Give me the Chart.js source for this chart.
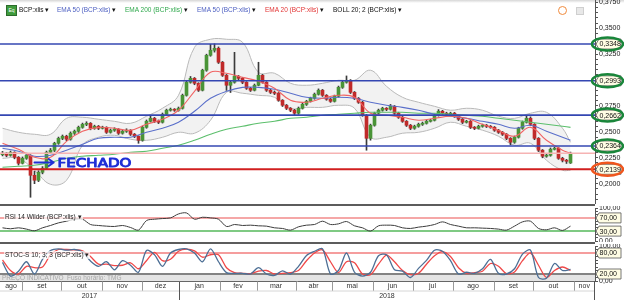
<!DOCTYPE html>
<html lang="pt">
<head>
<meta charset="utf-8">
<title>BCP:xlis</title>
<script src="https://cdn.jsdelivr.net/npm/chart.js"></script>
<style>
  body { margin: 0; background: #fff; font-family: "Liberation Sans", Arial, sans-serif; }
  #quadro { position: relative; width: 624px; height: 300px; overflow: hidden; background: #fff; }
  canvas { position: absolute; left: 0; }
  .topo { position: absolute; left: 0; top: 0; width: 624px; height: 3px; background: linear-gradient(#d6d6d6, #fff); }
  .sep { position: absolute; left: 0; width: 595px; height: 2px; background: #5c5c5c; }
  .eixo { position: absolute; left: 594px; top: 281px; width: 1px; height: 19px; background: #555; }
  .leg { position: absolute; font-size: 6.5px; line-height: 8px; white-space: nowrap; }
  .caixa { background: rgba(255,255,255,0.7); padding: 0 1px; }
  .icone { position: absolute; left: 6px; top: 5px; width: 9px; height: 9px; background: #3f9b3c; border: 1px solid #2b6b2a;
           color: #fff; font-size: 5px; line-height: 9px; text-align: center; }
  .bola { position: absolute; left: 558px; top: 6px; width: 7px; height: 7px; border-radius: 50%; background: #fff; border: 1.5px solid #f08a3c; }
  .quad { position: absolute; left: 576px; top: 7px; width: 6px; height: 6px; background: #e8e8e8; border: 1px solid #cfcfcf; }
</style>
</head>
<body>
<div id="quadro">
  <div class="topo"></div>
  <canvas id="grafPreco" width="624" height="204" style="top:0"></canvas>
  <div class="sep" style="top:204px"></div>
  <canvas id="grafRsi" width="624" height="36" style="top:206px"></canvas>
  <div class="sep" style="top:242px"></div>
  <canvas id="grafStoc" width="624" height="56" style="top:244px"></canvas>
  <div class="eixo"></div>

  <div class="icone">Eq</div>
  <div class="leg" style="left:19px;top:6px;color:#111">BCP:xlis ▾</div>
  <div class="leg" style="left:57px;top:6px;color:#4e60c2">EMA 50 (BCP:xlis) <span style="color:#111">▾</span></div>
  <div class="leg" style="left:125px;top:6px;color:#2fa84c">EMA 200 (BCP:xlis) <span style="color:#111">▾</span></div>
  <div class="leg" style="left:197px;top:6px;color:#4e60c2">EMA 50 (BCP:xlis) <span style="color:#111">▾</span></div>
  <div class="leg" style="left:265px;top:6px;color:#e23434">EMA 20 (BCP:xlis) <span style="color:#111">▾</span></div>
  <div class="leg" style="left:333px;top:6px;color:#111">BOLL 20; 2 (BCP:xlis) ▾</div>
  <div class="bola"></div>
  <div class="quad"></div>

  <div class="leg caixa" style="left:4px;top:213px;color:#222">RSI 14 Wilder (BCP:xlis) ▾</div>
  <div class="leg caixa" style="left:4px;top:251px;color:#222">STOC-S 10; 3; 3 (BCP:xlis) ▾</div>
</div>

<script>
// ---------- eixo do tempo ----------
const meses = ['ago', 'set', 'out', 'nov', 'dez', 'jan', 'fev', 'mar', 'abr', 'mai', 'jun', 'jul', 'ago', 'set', 'out', 'nov'];
const limitesMes = [-0.625, 4.9, 14.75, 24.9, 34.9, 44.1, 54.25, 63.5, 73.25, 82.3, 92.5, 102.5, 112.5, 122.75, 132.7, 142.75, 148.125];
const anos = ['2017', '2018'];
const limitesAno = [-0.625, 44.1, 148.125];

// ---------- velas: [abertura, máxima, mínima, fecho] ----------
const velas = [
  [0.2280, 0.2312, 0.2268, 0.2294], [0.2294, 0.2300, 0.2260, 0.2274], [0.2274, 0.2315, 0.2265, 0.2303], [0.2303, 0.2308, 0.2240, 0.2255],
  [0.2255, 0.2262, 0.2180, 0.2197], [0.2197, 0.2258, 0.2190, 0.2245], [0.2245, 0.2295, 0.2235, 0.2274], [0.2274, 0.2280, 0.1869, 0.2081],
  [0.2081, 0.2120, 0.2000, 0.2033], [0.2033, 0.2125, 0.2020, 0.2110], [0.2110, 0.2165, 0.2095, 0.2149], [0.2149, 0.2315, 0.2140, 0.2303],
  [0.2303, 0.2340, 0.2290, 0.2323], [0.2323, 0.2400, 0.2310, 0.2390], [0.2390, 0.2450, 0.2380, 0.2438], [0.2438, 0.2470, 0.2425, 0.2458],
  [0.2458, 0.2468, 0.2415, 0.2429], [0.2429, 0.2500, 0.2420, 0.2487], [0.2487, 0.2518, 0.2475, 0.2506], [0.2506, 0.2556, 0.2495, 0.2544],
  [0.2544, 0.2585, 0.2535, 0.2573], [0.2573, 0.2598, 0.2560, 0.2583], [0.2583, 0.2590, 0.2520, 0.2535], [0.2535, 0.2565, 0.2525, 0.2554],
  [0.2554, 0.2562, 0.2522, 0.2535], [0.2535, 0.2555, 0.2528, 0.2544], [0.2544, 0.2550, 0.2485, 0.2496], [0.2496, 0.2528, 0.2488, 0.2516],
  [0.2516, 0.2540, 0.2505, 0.2525], [0.2525, 0.2532, 0.2475, 0.2487], [0.2487, 0.2518, 0.2478, 0.2506], [0.2506, 0.2530, 0.2495, 0.2516],
  [0.2516, 0.2522, 0.2465, 0.2477], [0.2477, 0.2485, 0.2445, 0.2458], [0.2458, 0.2462, 0.2390, 0.2419], [0.2419, 0.2556, 0.2410, 0.2544],
  [0.2544, 0.2615, 0.2535, 0.2602], [0.2602, 0.2660, 0.2595, 0.2631], [0.2631, 0.2640, 0.2590, 0.2602], [0.2602, 0.2615, 0.2580, 0.2593],
  [0.2593, 0.2682, 0.2585, 0.2670], [0.2670, 0.2720, 0.2660, 0.2709], [0.2709, 0.2730, 0.2700, 0.2718], [0.2718, 0.2725, 0.2698, 0.2709],
  [0.2709, 0.2740, 0.2700, 0.2728], [0.2728, 0.2865, 0.2720, 0.2853], [0.2853, 0.2990, 0.2845, 0.2979], [0.2979, 0.3035, 0.2970, 0.3017],
  [0.3017, 0.3025, 0.2955, 0.2969], [0.2969, 0.2975, 0.2890, 0.2902], [0.2902, 0.3105, 0.2895, 0.3095], [0.3095, 0.3250, 0.3085, 0.3239],
  [0.3239, 0.3345, 0.3230, 0.3288], [0.3288, 0.3350, 0.3270, 0.3307], [0.3307, 0.3320, 0.3160, 0.3172], [0.3172, 0.3180, 0.3035, 0.3046],
  [0.3046, 0.3055, 0.2900, 0.2950], [0.2950, 0.2990, 0.2880, 0.2979], [0.2979, 0.3268, 0.2970, 0.3037], [0.3037, 0.3045, 0.3000, 0.3017],
  [0.3017, 0.3025, 0.2965, 0.2979], [0.2979, 0.2985, 0.2910, 0.2921], [0.2921, 0.2930, 0.2890, 0.2902], [0.2902, 0.2962, 0.2895, 0.2950],
  [0.2950, 0.3172, 0.2945, 0.3046], [0.3046, 0.3055, 0.2970, 0.2979], [0.2979, 0.2985, 0.2890, 0.2902], [0.2902, 0.2912, 0.2870, 0.2882],
  [0.2882, 0.2895, 0.2860, 0.2873], [0.2873, 0.2880, 0.2795, 0.2805], [0.2805, 0.2812, 0.2745, 0.2757], [0.2757, 0.2765, 0.2715, 0.2728],
  [0.2728, 0.2735, 0.2695, 0.2709], [0.2709, 0.2718, 0.2660, 0.2680], [0.2680, 0.2740, 0.2670, 0.2728], [0.2728, 0.2778, 0.2720, 0.2766],
  [0.2766, 0.2805, 0.2755, 0.2795], [0.2795, 0.2835, 0.2788, 0.2824], [0.2824, 0.2875, 0.2815, 0.2863], [0.2863, 0.2915, 0.2855, 0.2902],
  [0.2902, 0.2910, 0.2842, 0.2853], [0.2853, 0.2860, 0.2805, 0.2815], [0.2815, 0.2825, 0.2785, 0.2795], [0.2795, 0.2855, 0.2788, 0.2844],
  [0.2844, 0.2942, 0.2835, 0.2930], [0.2930, 0.2990, 0.2920, 0.2979], [0.2979, 0.3040, 0.2970, 0.2998], [0.2998, 0.3005, 0.2870, 0.2882],
  [0.2882, 0.2890, 0.2812, 0.2824], [0.2824, 0.2832, 0.2775, 0.2786], [0.2786, 0.2795, 0.2650, 0.2660], [0.2660, 0.2668, 0.2323, 0.2438],
  [0.2438, 0.2575, 0.2420, 0.2564], [0.2564, 0.2690, 0.2555, 0.2680], [0.2680, 0.2720, 0.2670, 0.2709], [0.2709, 0.2738, 0.2700, 0.2728],
  [0.2728, 0.2735, 0.2705, 0.2718], [0.2718, 0.2765, 0.2710, 0.2747], [0.2747, 0.2755, 0.2668, 0.2680], [0.2680, 0.2690, 0.2630, 0.2641],
  [0.2641, 0.2650, 0.2592, 0.2602], [0.2602, 0.2610, 0.2552, 0.2564], [0.2564, 0.2572, 0.2522, 0.2535], [0.2535, 0.2565, 0.2525, 0.2554],
  [0.2554, 0.2585, 0.2545, 0.2573], [0.2573, 0.2595, 0.2562, 0.2583], [0.2583, 0.2612, 0.2575, 0.2602], [0.2602, 0.2622, 0.2595, 0.2612],
  [0.2612, 0.2672, 0.2605, 0.2660], [0.2660, 0.2715, 0.2652, 0.2699], [0.2699, 0.2708, 0.2670, 0.2680], [0.2680, 0.2690, 0.2660, 0.2670],
  [0.2670, 0.2690, 0.2662, 0.2680], [0.2680, 0.2688, 0.2640, 0.2651], [0.2651, 0.2660, 0.2610, 0.2622], [0.2622, 0.2630, 0.2580, 0.2593],
  [0.2593, 0.2612, 0.2585, 0.2602], [0.2602, 0.2610, 0.2532, 0.2544], [0.2544, 0.2552, 0.2522, 0.2535], [0.2535, 0.2565, 0.2528, 0.2554],
  [0.2554, 0.2575, 0.2545, 0.2564], [0.2564, 0.2572, 0.2542, 0.2554], [0.2554, 0.2562, 0.2535, 0.2544], [0.2544, 0.2552, 0.2505, 0.2516],
  [0.2516, 0.2525, 0.2485, 0.2496], [0.2496, 0.2505, 0.2465, 0.2477], [0.2477, 0.2485, 0.2425, 0.2438], [0.2438, 0.2445, 0.2375, 0.2400],
  [0.2400, 0.2460, 0.2390, 0.2448], [0.2448, 0.2545, 0.2440, 0.2535], [0.2535, 0.2605, 0.2525, 0.2593], [0.2593, 0.2660, 0.2585, 0.2631],
  [0.2631, 0.2645, 0.2560, 0.2573], [0.2573, 0.2580, 0.2425, 0.2438], [0.2438, 0.2445, 0.2310, 0.2323], [0.2323, 0.2330, 0.2250, 0.2265],
  [0.2265, 0.2290, 0.2255, 0.2274], [0.2274, 0.2345, 0.2265, 0.2332], [0.2332, 0.2352, 0.2325, 0.2342], [0.2342, 0.2350, 0.2235, 0.2245],
  [0.2245, 0.2255, 0.2210, 0.2226], [0.2226, 0.2235, 0.2195, 0.2216], [0.2200, 0.2305, 0.2195, 0.2294]
];

// ---------- médias e bandas (lidas a cada 4 velas) ----------
const idxLinhas = [0, 4, 8, 12, 16, 20, 24, 28, 32, 36, 40, 44, 48, 52, 56, 60, 64, 68, 72, 76, 80, 84, 88, 92, 96, 100, 104, 108, 112, 116, 120, 124, 128, 132, 136, 140, 142];
const ema20 = [0.2390, 0.2332, 0.2255, 0.2255, 0.2409, 0.2506, 0.2544, 0.2535, 0.2516, 0.2573, 0.2622, 0.2709, 0.2892, 0.3075, 0.3066, 0.3027, 0.2988, 0.2921, 0.2805,
  0.2786, 0.2824, 0.2853, 0.2834, 0.2680, 0.2660, 0.2641, 0.2612, 0.2631, 0.2651, 0.2631, 0.2573, 0.2516, 0.2458, 0.2544, 0.2419, 0.2323, 0.2294];
const ema50 = [0.2342, 0.2313, 0.2265, 0.2274, 0.2323, 0.2380, 0.2438, 0.2448, 0.2448, 0.2496, 0.2535, 0.2593, 0.2699, 0.2824, 0.2892, 0.2930, 0.2930, 0.2911, 0.2873,
  0.2834, 0.2824, 0.2834, 0.2824, 0.2786, 0.2757, 0.2737, 0.2709, 0.2670, 0.2651, 0.2631, 0.2602, 0.2573, 0.2535, 0.2564, 0.2506, 0.2448, 0.2419];
const ema200 = [0.2158, 0.2168, 0.2178, 0.2207, 0.2245, 0.2265, 0.2274, 0.2284, 0.2303, 0.2313, 0.2342, 0.2371, 0.2419, 0.2477, 0.2525, 0.2554, 0.2583, 0.2602, 0.2631,
  0.2641, 0.2660, 0.2670, 0.2680, 0.2689, 0.2689, 0.2689, 0.2680, 0.2680, 0.2670, 0.2660, 0.2651, 0.2631, 0.2612, 0.2593, 0.2573, 0.2554, 0.2544];
const bollSup = [0.2535, 0.2496, 0.2477, 0.2477, 0.2631, 0.2641, 0.2622, 0.2602, 0.2583, 0.2651, 0.2728, 0.2853, 0.3316, 0.3394, 0.3394, 0.3365, 0.3075, 0.3066, 0.2969,
  0.2950, 0.2969, 0.2998, 0.2998, 0.3095, 0.2940, 0.2834, 0.2786, 0.2747, 0.2709, 0.2728, 0.2709, 0.2651, 0.2631, 0.2680, 0.2689, 0.2535, 0.2400];
const bollInf = [0.2245, 0.2245, 0.2130, 0.1994, 0.2033, 0.2371, 0.2448, 0.2467, 0.2429, 0.2419, 0.2448, 0.2496, 0.2487, 0.2612, 0.2882, 0.2873, 0.2853, 0.2834, 0.2728,
  0.2737, 0.2737, 0.2757, 0.2728, 0.2448, 0.2448, 0.2487, 0.2496, 0.2535, 0.2593, 0.2554, 0.2516, 0.2458, 0.2371, 0.2390, 0.2226, 0.2130, 0.2130];

// ---------- osciladores (lidos a cada 2 velas) ----------
const idxOsc = [0, 2, 4, 6, 8, 10, 12, 14, 16, 18, 20, 22, 24, 26, 28, 30, 32, 34, 36, 38, 40, 42, 44, 46, 48, 50, 52, 54, 56, 58, 60, 62, 64, 66, 68, 70,
  72, 74, 76, 78, 80, 82, 84, 86, 88, 90, 92, 94, 96, 98, 100, 102, 104, 106, 108, 110, 112, 114, 116, 118, 120, 122, 124, 126, 128, 130, 132, 134, 136, 138, 140, 142];
const rsi = [40, 37, 40, 36, 31, 40, 47, 55, 60, 66, 66, 50, 47, 45, 44, 47, 41, 33, 62, 66, 68, 70, 82, 85, 66, 72, 70, 66, 44, 50, 47, 48, 46, 45, 40, 38,
  33, 43, 48, 50, 60, 50, 52, 59, 46, 40, 30, 46, 48, 47, 40, 38, 42, 45, 50, 58, 50, 45, 40, 40, 39, 38, 36, 33, 45, 58, 60, 38, 34, 40, 32, 45];
const stocK = [53, 14, 28, 55, 20, 62, 87, 92, 88, 90, 83, 57, 42, 55, 32, 58, 45, 25, 87, 75, 42, 80, 90, 92, 80, 55, 92, 55, 24, 22, 22, 20, 38, 20, 16, 29,
  20, 42, 73, 85, 92, 20, 30, 80, 25, 14, 25, 72, 75, 32, 28, 10, 36, 59, 88, 85, 58, 20, 25, 22, 35, 62, 22, 20, 35, 77, 88, 10, 8, 50, 30, 33];
const stocD = [60, 30, 20, 42, 38, 40, 75, 90, 90, 89, 86, 70, 48, 48, 44, 45, 52, 35, 58, 82, 58, 62, 85, 91, 86, 68, 75, 75, 38, 24, 22, 21, 28, 30, 20, 22,
  24, 30, 58, 80, 89, 55, 24, 55, 52, 20, 18, 48, 74, 55, 30, 18, 22, 48, 72, 84, 70, 38, 22, 24, 28, 50, 42, 21, 26, 58, 80, 45, 10, 30, 40, 30];

// ---------- níveis ----------
const resistencias = [0.3348, 0.2993, 0.2662, 0.2364];
const suporte = 0.2139;
const marcasPreco = [0.200, 0.225, 0.250, 0.275, 0.300, 0.325, 0.350, 0.375];
const niveisRsi = [70, 30];
const niveisStoc = [80, 20];
const anotacao = { texto: 'FECHADO', setaDe: 8, setaAte: 12.8, valorSeta: 0.2205, xTexto: 13.75, valorTexto: 0.2160, largura: 74 };

// ---------- configuração ----------
Chart.defaults.font.family = '"Liberation Sans", Arial, sans-serif';
Chart.defaults.animation = false;
Chart.defaults.plugins.legend.display = false;
Chart.defaults.plugins.tooltip.enabled = false;

const fmt = (v, d) => v.toFixed(d).replace('.', ',');
const pontos = (idx, vals) => idx.map((x, k) => ({ x: x, y: vals[k] }));

const eixoX = () => ({ type: 'linear', min: -0.625, max: 148.125, offset: false, display: false });

function eixoY(min, max, marcas, rotulo) {
  return {
    position: 'right', min: min, max: max,
    afterFit: s => { s.width = 29; s.paddingTop = 0; s.paddingBottom = 0; },
    afterBuildTicks: s => { s.ticks = marcas.map(v => ({ value: v })); },
    grid: { drawOnChartArea: false, color: '#555', tickLength: 3 },
    border: { color: '#555' },
    ticks: { autoSkip: false, padding: 1, color: '#222', font: { size: 7 }, callback: rotulo }
  };
}

// etiqueta amarela à direita, com anel desenhado à mão opcional
function etiqueta(ctx, y, texto, anel) {
  const x0 = 596, w = 25, h = 10;
  ctx.save();
  ctx.beginPath();
  ctx.moveTo(x0, y);
  ctx.lineTo(x0 + 3, y - h / 2);
  ctx.lineTo(x0 + w, y - h / 2);
  ctx.lineTo(x0 + w, y + h / 2);
  ctx.lineTo(x0 + 3, y + h / 2);
  ctx.closePath();
  ctx.fillStyle = '#fffde4';
  ctx.fill();
  ctx.strokeStyle = '#555';
  ctx.lineWidth = 0.8;
  ctx.stroke();
  ctx.fillStyle = '#111';
  ctx.font = '7px "Liberation Sans", Arial';
  ctx.textBaseline = 'middle';
  ctx.textAlign = 'left';
  ctx.fillText(texto, x0 + 3.5, y + 0.5);
  if (anel) {
    ctx.beginPath();
    ctx.ellipse(x0 + 11.5, y, 15.5, 6.5, 0, 0, Math.PI * 2);
    ctx.strokeStyle = anel;
    ctx.lineWidth = 2.5;
    ctx.stroke();
  }
  ctx.restore();
}

function linhaH(ctx, a, py, cor, lw) {
  ctx.beginPath();
  ctx.moveTo(a.left, py);
  ctx.lineTo(a.right, py);
  ctx.strokeStyle = cor;
  ctx.lineWidth = lw;
  ctx.stroke();
}

// ---------- painel de preço ----------
const pluginPreco = {
  id: 'niveisPreco',
  afterDatasetsDraw(chart) {
    const { ctx, chartArea: a, scales: { x, y } } = chart;
    ctx.save();
    linhaH(ctx, a, y.getPixelForValue(velas[velas.length - 1][3]), '#f6b3b3', 1.5);
    resistencias.forEach(v => linhaH(ctx, a, y.getPixelForValue(v), '#3447b2', 1.6));
    linhaH(ctx, a, y.getPixelForValue(suporte), '#d11f1f', 2);

    // seta e texto "FECHADO" (traço de marcador)
    const xa = x.getPixelForValue(anotacao.setaDe), xb = x.getPixelForValue(anotacao.setaAte);
    const ya = y.getPixelForValue(anotacao.valorSeta);
    ctx.strokeStyle = '#1f2fd6';
    ctx.fillStyle = '#1f2fd6';
    ctx.lineWidth = 2;
    ctx.lineCap = 'round';
    ctx.lineJoin = 'round';
    ctx.beginPath();
    ctx.moveTo(xa, ya);
    ctx.lineTo(xb, ya);
    ctx.moveTo(xb - 5, ya - 3.5);
    ctx.lineTo(xb, ya);
    ctx.lineTo(xb - 5, ya + 3.5);
    ctx.stroke();
    ctx.font = '12px "DejaVu Sans"';
    ctx.textBaseline = 'alphabetic';
    const larg = ctx.measureText(anotacao.texto).width;
    ctx.translate(x.getPixelForValue(anotacao.xTexto), y.getPixelForValue(anotacao.valorTexto));
    ctx.scale(anotacao.largura / larg, 1);
    ctx.lineWidth = 0.9;
    ctx.fillText(anotacao.texto, 0, 0);
    ctx.strokeText(anotacao.texto, 0, 0);
    ctx.restore();
  },
  afterDraw(chart) {
    const { ctx, scales: { y } } = chart;
    resistencias.forEach(v => etiqueta(ctx, y.getPixelForValue(v), fmt(v, 4), '#19863a'));
    etiqueta(ctx, y.getPixelForValue(suporte), fmt(suporte, 4), '#f0561d');
  }
};

const marcasMenores = [];
for (let v = 185; v <= 375; v += 5) marcasMenores.push(v / 1000);

new Chart(document.getElementById('grafPreco'), {
  type: 'bar',
  data: {
    datasets: [
      { type: 'line', label: 'BOLL sup', data: pontos(idxLinhas, bollSup), borderColor: '#b9b9b9', borderWidth: 1,
        pointRadius: 0, tension: 0.4, fill: false, order: 10 },
      { type: 'line', label: 'BOLL inf', data: pontos(idxLinhas, bollInf), borderColor: '#b9b9b9', borderWidth: 1,
        pointRadius: 0, tension: 0.4, fill: '-1', backgroundColor: 'rgba(0,0,0,0.05)', order: 10 },
      { label: 'pavio', data: velas.map((v, i) => ({ x: i, y: [v[2], v[1]] })), backgroundColor: '#3b3b3b',
        barThickness: 1, grouped: false, order: 6 },
      { label: 'corpo', data: velas.map((v, i) => ({ x: i, y: [v[0], v[3]] })),
        backgroundColor: c => { const v = velas[c.dataIndex]; return v && v[3] >= v[0] ? '#4a9437' : '#c02a2a'; },
        barThickness: 3, minBarLength: 1, grouped: false, order: 5 },
      { type: 'line', label: 'EMA 200', data: pontos(idxLinhas, ema200), borderColor: '#5cbf6c', borderWidth: 1.1,
        pointRadius: 0, tension: 0.4, order: 3 },
      { type: 'line', label: 'EMA 50', data: pontos(idxLinhas, ema50), borderColor: '#5a6fca', borderWidth: 1.1,
        pointRadius: 0, tension: 0.4, order: 2 },
      { type: 'line', label: 'EMA 20', data: pontos(idxLinhas, ema20), borderColor: '#f06464', borderWidth: 1.1,
        pointRadius: 0, tension: 0.4, order: 1 }
    ]
  },
  options: {
    responsive: false,
    layout: { padding: 0 },
    scales: {
      x: eixoX(),
      y: eixoY(0.1804, 0.3773, marcasMenores,
        v => marcasPreco.some(m => Math.abs(m - v) < 1e-6) ? fmt(v, 4) : '')
    }
  },
  plugins: [pluginPreco]
});

// ---------- RSI ----------
const marcasOsc = [0, 10, 20, 30, 40, 50, 60, 70, 80, 90, 100];
const rotuloOsc = v => v === 100 ? '100,00' : (v === 0 ? '0,00' : '');

new Chart(document.getElementById('grafRsi'), {
  type: 'line',
  data: {
    datasets: [
      { label: 'RSI 14', data: pontos(idxOsc, rsi), borderColor: '#3c3c3c', borderWidth: 1, pointRadius: 0, tension: 0.3 }
    ]
  },
  options: {
    responsive: false,
    layout: { padding: { top: 2, bottom: 1 } },
    scales: { x: eixoX(), y: eixoY(0, 100, marcasOsc, rotuloOsc) }
  },
  plugins: [{
    id: 'niveisRsi',
    beforeDatasetsDraw(chart) {
      const { ctx, chartArea: a, scales: { y } } = chart;
      ctx.save();
      linhaH(ctx, a, y.getPixelForValue(niveisRsi[0]), '#f28a8a', 1.5);
      linhaH(ctx, a, y.getPixelForValue(niveisRsi[1]), '#55b85a', 1.5);
      ctx.restore();
    },
    afterDraw(chart) {
      niveisRsi.forEach(v => etiqueta(chart.ctx, chart.scales.y.getPixelForValue(v), fmt(v, 2)));
    }
  }]
});

// ---------- Estocástico + eixo dos meses ----------
new Chart(document.getElementById('grafStoc'), {
  type: 'line',
  data: {
    datasets: [
      { label: '%K', data: pontos(idxOsc, stocK), borderColor: '#4d6f95', borderWidth: 1.3, pointRadius: 0, tension: 0.3 },
      { label: '%D', data: pontos(idxOsc, stocD), borderColor: '#f04848', borderWidth: 1.3, pointRadius: 0, tension: 0.3 }
    ]
  },
  options: {
    responsive: false,
    layout: { padding: { top: 2, bottom: 19 } },
    scales: { x: eixoX(), y: eixoY(0, 100, marcasOsc, rotuloOsc) }
  },
  plugins: [{
    id: 'stocEixo',
    beforeDatasetsDraw(chart) {
      const { ctx, chartArea: a, scales: { y } } = chart;
      ctx.save();
      // faixa cinzenta do rodapé
      ctx.fillStyle = '#e4e4e4';
      ctx.fillRect(a.left, a.bottom - 6, a.right - a.left, 6);
      ctx.fillStyle = '#a6a6a6';
      ctx.font = '6.5px "Liberation Sans", Arial';
      ctx.textBaseline = 'middle';
      ctx.fillText('PREÇO INDICATIVO', 2, a.bottom - 3);
      ctx.fillText('Fuso horário: TMG', 67, a.bottom - 3);
      linhaH(ctx, a, y.getPixelForValue(niveisStoc[0]), '#f27c7c', 1.5);
      linhaH(ctx, a, y.getPixelForValue(niveisStoc[1]), '#5a5a5a', 1.5);
      ctx.restore();
    },
    afterDraw(chart) {
      const { ctx, chartArea: a, scales: { x, y } } = chart;
      niveisStoc.forEach(v => etiqueta(ctx, y.getPixelForValue(v), fmt(v, 2)));

      const topo = a.bottom + 0.5, altLinha = 9.5;
      ctx.save();
      linhaH(ctx, a, topo, '#666', 1);
      ctx.font = '7px "Liberation Sans", Arial';
      ctx.textAlign = 'center';
      ctx.textBaseline = 'middle';
      ctx.fillStyle = '#333';
      meses.forEach((m, k) => {
        const x0 = x.getPixelForValue(limitesMes[k]), x1 = x.getPixelForValue(limitesMes[k + 1]);
        ctx.fillText(m, (x0 + x1) / 2, topo + 5);
      });
      ctx.strokeStyle = '#9a9a9a';
      ctx.lineWidth = 1;
      for (let k = 1; k < limitesMes.length - 1; k++) {
        const px = Math.round(x.getPixelForValue(limitesMes[k])) + 0.5;
        ctx.beginPath();
        ctx.moveTo(px, topo);
        ctx.lineTo(px, topo + altLinha);
        ctx.stroke();
      }
      linhaH(ctx, a, topo + altLinha, '#d6d6d6', 1);
      anos.forEach((ano, k) => {
        const x0 = x.getPixelForValue(limitesAno[k]), x1 = x.getPixelForValue(limitesAno[k + 1]);
        ctx.fillText(ano, (x0 + x1) / 2, topo + altLinha + 5);
      });
      const pxAno = Math.round(x.getPixelForValue(limitesAno[1])) + 0.5;
      ctx.strokeStyle = '#555';
      ctx.beginPath();
      ctx.moveTo(pxAno, topo);
      ctx.lineTo(pxAno, chart.height);
      ctx.stroke();
      ctx.restore();
    }
  }]
});
</script>
</body>
</html>
